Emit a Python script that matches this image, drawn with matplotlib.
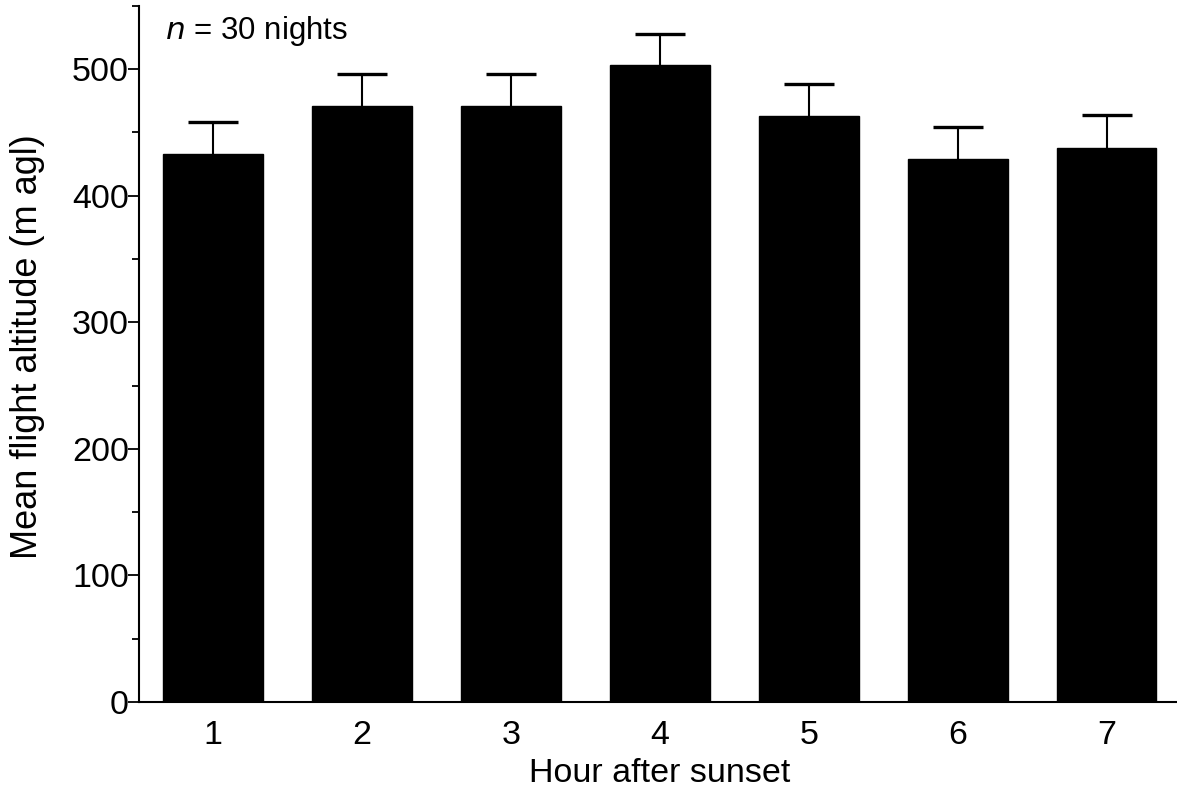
"""Mean flight altitude per hour after sunset, bars with upper SE whiskers."""
import matplotlib
matplotlib.use("Agg")
import matplotlib.pyplot as plt
from matplotlib.ticker import MultipleLocator

hours = [1, 2, 3, 4, 5, 6, 7]
altitude = [433, 471, 471, 503, 463, 429, 438]
err_up = [25, 25, 25, 25, 25, 25, 26]
tick_labels = ["1", "2", "3", "4", "5", "6", "7"]

plt.rcParams["font.family"] = ["Liberation Sans", "DejaVu Sans"]
plt.rcParams["font.size"] = 24.5

fig = plt.figure(figsize=(11.77, 7.88), dpi=100)
ax = fig.add_axes([0.1177, 0.1091, 0.8857, 0.8836])

# whiskers sit behind the bars, so only the upper half shows
ax.errorbar(hours, altitude, yerr=err_up, fmt="none",
            ecolor="black", elinewidth=1.5, capsize=18, capthick=2.4, zorder=1)
ax.bar(hours, altitude, width=0.67, color="black", edgecolor="black", zorder=2)

ax.set_xlim(0.5, 7.5)
ax.set_ylim(0, 550)
ax.set_xticks(hours)
ax.set_xticklabels(tick_labels)
ax.yaxis.set_major_locator(MultipleLocator(100))
ax.yaxis.set_minor_locator(MultipleLocator(50))

for side in ("top", "right"):
    ax.spines[side].set_visible(False)
ax.spines["left"].set_linewidth(1.5)
ax.spines["bottom"].set_linewidth(1.5)
ax.tick_params(axis="x", length=0, pad=13)
ax.tick_params(axis="y", which="major", length=8, width=1.3, pad=-1)
ax.tick_params(axis="y", which="minor", length=5, width=1.3)

ax.set_xlabel("Hour after sunset", labelpad=5)
ax.set_ylabel("Mean flight altitude (m agl)", fontsize=26)
ax.yaxis.set_label_coords(-0.09, 0.51)

ax.text(0.68, 530, r"$\it{n}$ = 30 nights", va="center", ha="left", fontsize=22.5)

fig.savefig("out.png", dpi=100)
